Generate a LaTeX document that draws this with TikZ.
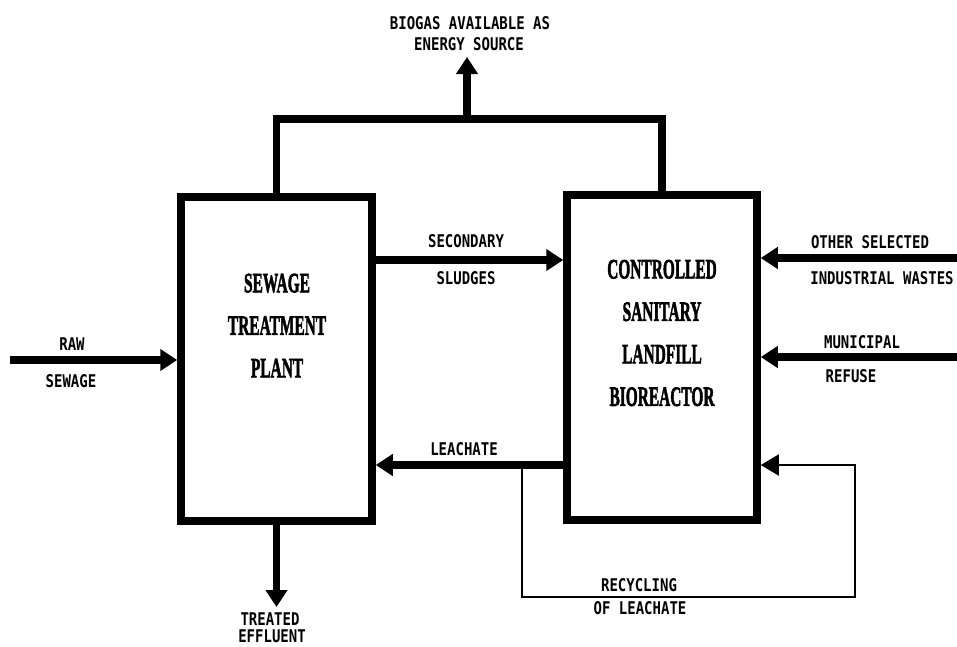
\documentclass[tikz,border=0pt]{standalone}
\usepackage{fontspec}
\setmainfont{DejaVu Sans Mono}
\newfontfamily\boxfont{Liberation Serif}[BoldFeatures={FakeBold=2.5}]
\newfontfamily\lblfont{DejaVu Sans Mono}
\usetikzlibrary{arrows.meta}
\newcommand{\mylb}[1]{\scalebox{0.8}[1]{#1}}
\newcommand{\mybx}[1]{\scalebox{0.55}[1]{#1}}
\begin{document}
\begin{tikzpicture}[x=1pt,y=-1pt,
  box/.style={draw, line width=7.5pt, inner sep=0pt},
  pipe/.style={line width=7.5pt, line join=miter},
  flow/.style={pipe, -{Triangle[length=17pt,width=21pt]}},
  thinflow/.style={line width=1.6pt, -{Triangle[length=18pt,width=21pt]}},
  lbl/.style={font=\lblfont\bfseries\fontsize{17.5}{17.5}\selectfont, inner sep=0pt},
  ttl/.style={font=\boxfont\bfseries\fontsize{28}{42.5}\selectfont, align=center, inner sep=0pt}]
\useasboundingbox (0,0) rectangle (957,646);

% boxes
\node[box, minimum width=191pt, minimum height=324pt] (stp) at (276.5,359) {};
\node[box, minimum width=190pt, minimum height=325pt] (ctl) at (662,357.5) {};
\node[ttl] (stpt) at (277,325.5) {\mybx{SEWAGE}\\\mybx{TREATMENT}\\\mybx{PLANT}};
\node[ttl] (ctlt) at (662,333) {\mybx{CONTROLLED}\\\mybx{SANITARY}\\\mybx{LANDFILL}\\\mybx{BIOREACTOR}};

% coordinates
\coordinate (sy) at (0,260);
\coordinate (ly) at (0,465);
\coordinate (rj) at (522,465);
\coordinate (rc) at (855,597);
\coordinate (oin) at (957,258);
\coordinate (min) at (957,357);
\coordinate (rin) at (10,360);
\coordinate (eout) at (276.5,607);
\coordinate (bus) at (467,119);
\coordinate (gas) at (467,57);

% connectors
\draw[pipe] (stp.north) |- (bus) -| (ctl.north);
\draw[flow] (bus) -- (gas);
\draw[flow] (stp.east |- sy) -- (ctl.west |- sy);
\draw[flow] (ctl.west |- ly) -- (stp.east |- ly);
\draw[thinflow] (rj) |- (rc) |- (ctl.east |- ly);
\draw[flow] (oin) -- (oin -| ctl.east);
\draw[flow] (min) -- (min -| ctl.east);
\draw[flow] (rin) -- (rin -| stp.west);
\draw[flow] (stp.south) -- (eout);

% labels
\node[lbl] (g1) at (470,23) {\mylb{BIOGAS AVAILABLE AS}};
\node[lbl] (g2) at (469,44) {\mylb{ENERGY SOURCE}};
\node[lbl] (s1) at (466,241) {\mylb{SECONDARY}};
\node[lbl] (s2) at (466,278) {\mylb{SLUDGES}};
\node[lbl] (le) at (464,449) {\mylb{LEACHATE}};
\node[lbl] (r1) at (72,344) {\mylb{RAW}};
\node[lbl] (r2) at (71,381) {\mylb{SEWAGE}};
\node[lbl] (o1) at (870,242) {\mylb{OTHER SELECTED}};
\node[lbl] (o2) at (882,278) {\mylb{INDUSTRIAL WASTES}};
\node[lbl] (m1) at (862,342) {\mylb{MUNICIPAL}};
\node[lbl] (m2) at (851,376) {\mylb{REFUSE}};
\node[lbl] (t1) at (270,619) {\mylb{TREATED}};
\node[lbl] (t2) at (272,636) {\mylb{EFFLUENT}};
\node[lbl] (c1) at (639,585) {\mylb{RECYCLING}};
\node[lbl] (c2) at (640,608) {\mylb{OF LEACHATE}};
\end{tikzpicture}
\end{document}
